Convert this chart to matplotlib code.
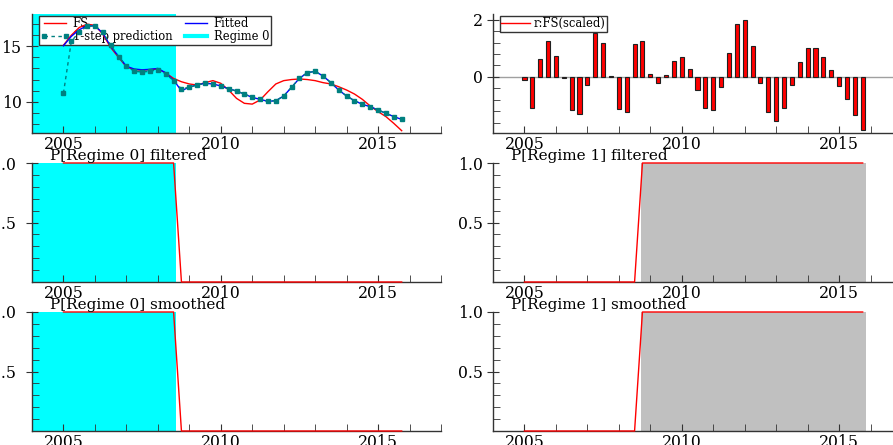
import numpy as np
import matplotlib
matplotlib.use("Agg")
import matplotlib.pyplot as plt
from matplotlib.ticker import MultipleLocator, FixedLocator
from matplotlib.lines import Line2D

plt.rcParams['font.family'] = ['DejaVu Serif']

# ---------------- data ----------------
start_year = 2005.0
n_obs = 44
dates = start_year + 0.25 * np.arange(n_obs)   # quarterly 2005Q1 .. 2015Q4

fs = [15.10, 16.00, 16.70, 17.00,
      16.90, 16.10, 14.90, 14.00,
      13.15, 12.90, 12.85, 12.90,
      12.95, 12.60, 12.10, 11.80,
      11.60, 11.50, 11.72, 11.90,
      11.66, 11.05, 10.30, 9.85,
      9.78, 10.15, 10.90, 11.60,
      11.90, 12.00, 12.05, 12.00,
      11.90, 11.72, 11.60, 11.35,
      11.05, 10.69, 10.21, 9.61,
      9.10, 8.65, 8.04, 7.38]

fitted = [15.05, 15.90, 16.50, 16.85,
          16.85, 16.20, 15.00, 14.10,
          13.20, 12.95, 12.88, 12.92,
          13.00, 12.60, 11.95, 10.98,
          11.32, 11.52, 11.66, 11.60,
          11.42, 11.17, 10.96, 10.69,
          10.39, 10.21, 10.03, 10.09,
          10.51, 11.30, 12.11, 12.62,
          12.74, 12.32, 11.72, 11.05,
          10.51, 10.09, 9.76, 9.55,
          9.25, 8.95, 8.65, 8.40]

one_step = [10.78, 15.45, 16.30, 16.80,
            16.85, 16.30, 15.10, 14.07,
            13.22, 12.74, 12.68, 12.74,
            12.90, 12.50, 11.90, 11.15,
            11.30, 11.51, 11.66, 11.60,
            11.42, 11.17, 10.96, 10.69,
            10.39, 10.21, 10.03, 10.09,
            10.51, 11.30, 12.11, 12.62,
            12.74, 12.32, 11.72, 11.05,
            10.51, 10.09, 9.76, 9.55,
            9.25, 8.95, 8.65, 8.40]

resid_scaled = [-0.10, -1.10, 0.63, 1.24,
                0.73, -0.05, -1.17, -1.30,
                -0.27, 1.54, 1.19, 0.03,
                -1.13, -1.22, 1.16, 1.24,
                0.10, -0.20, 0.08, 0.54,
                0.70, 0.28, -0.46, -1.10,
                -1.16, -0.37, 0.83, 1.84,
                2.00, 1.08, -0.20, -1.22,
                -1.56, -1.08, -0.29, 0.53,
                1.00, 1.00, 0.70, 0.23,
                -0.32, -0.78, -1.32, -1.85]

p0_filtered = [1.0] * 15 + [0.0] * 29
p0_smoothed = [1.0] * 15 + [0.0] * 29
p1_filtered = [1.0 - v for v in p0_filtered]
p1_smoothed = [1.0 - v for v in p0_smoothed]

regime0_shade = (2004.0, 2008.57)
regime1_shade = (2008.72, 2015.85)

x_major = [2005, 2010, 2015]
titles = ["P[Regime 0] filtered", "P[Regime 1] filtered",
          "P[Regime 0] smoothed", "P[Regime 1] smoothed"]

# ---------------- style ----------------
W, H = 893, 445
fig = plt.figure(figsize=(W / 100, H / 100), dpi=100)
AX_COL = '#333333'
CYAN = '#00FFFF'
GREY = '#C0C0C0'
TICK_FS = 11.3
TITLE_FS = 11.0
LEG_FS = 8.3


def add_ax(left, top, right, bottom):
    return fig.add_axes([left / W, 1 - bottom / H, (right - left) / W, (bottom - top) / H])


def style(ax, ymaj, ymin_step, ypad=3):
    for s in ('top', 'right'):
        ax.spines[s].set_visible(False)
    for s in ('left', 'bottom'):
        ax.spines[s].set_color(AX_COL)
        ax.spines[s].set_linewidth(1.0)
    ax.set_xlim(2004, 2017)
    ax.xaxis.set_major_locator(FixedLocator(x_major))
    ax.xaxis.set_minor_locator(MultipleLocator(1))
    ax.yaxis.set_major_locator(FixedLocator(ymaj))
    ax.yaxis.set_minor_locator(MultipleLocator(ymin_step))
    ax.tick_params(axis='x', which='both', direction='in', length=5, color=AX_COL,
                   labelsize=TICK_FS, pad=2)
    ax.tick_params(axis='y', which='major', direction='inout', length=9, color=AX_COL,
                   labelsize=TICK_FS, pad=ypad)
    ax.tick_params(axis='y', which='minor', direction='in', length=5, color=AX_COL)
    ax.set_facecolor('none')


# ---- top-left: FS, fitted, 1-step prediction ----
ax = add_ax(32, 14, 441, 133)
style(ax, [10, 15], 1)
ax.set_ylim(7.17, 17.92)
ax.axvspan(*regime0_shade, color=CYAN, zorder=0.5, lw=0)
ax.plot(dates, fs, color='#FF0000', lw=1.0, zorder=3)
ax.plot(dates, fitted, color='#0000FF', lw=1.0, zorder=3)
ax.plot(dates, one_step, color='#008080', lw=1.0, ls=(0, (2.5, 2.5)),
        marker='s', ms=2.8, zorder=4)
handles = [Line2D([], [], color='#FF0000', lw=1.0),
           Line2D([], [], color='#008080', lw=1.0, ls=(0, (2.5, 2.5)), marker='s', ms=2.8),
           Line2D([], [], color='#0000FF', lw=1.0),
           Line2D([], [], color=CYAN, lw=3.0)]
labels = ["FS", "1-step prediction", "Fitted", "Regime 0"]
leg = ax.legend(handles, labels, ncol=2, loc='upper left',
                bbox_to_anchor=(7 / 409, 1 - 2 / 119), borderaxespad=0,
                fontsize=LEG_FS, handlelength=2.5, handletextpad=0.3, columnspacing=0.8,
                borderpad=0.12, labelspacing=0.0, fancybox=False, framealpha=1,
                edgecolor=AX_COL, numpoints=2)
leg.get_frame().set_linewidth(1.0)
leg.set_zorder(1)

# ---- top-right: scaled residuals ----
ax = add_ax(493, 14, 902, 133)
style(ax, [0, 2], 0.4)
ax.set_ylim(-1.965, 2.2)
ax.axhline(0, color='#A0A0A0', lw=1.0, zorder=1)
ax.bar(dates, resid_scaled, width=0.13, color='#FF0000', edgecolor='#202020',
       linewidth=0.8, zorder=3)
leg = ax.legend([Line2D([], [], color='#FF0000', lw=1.0)], ["r:FS(scaled)"],
                loc='upper left', bbox_to_anchor=(7 / 409, 1 - 2 / 119), borderaxespad=0,
                fontsize=LEG_FS, handlelength=2.5, handletextpad=0.3, borderpad=0.12,
                fancybox=False, framealpha=1, edgecolor=AX_COL)
leg.get_frame().set_linewidth(1.0)

# ---- probability panels ----
panels = [((32, 163, 441, 282), p0_filtered, regime0_shade, CYAN, titles[0], 7),
          ((493, 163, 902, 282), p1_filtered, regime1_shade, GREY, titles[1], 3),
          ((32, 312, 441, 431), p0_smoothed, regime0_shade, CYAN, titles[2], 7),
          ((493, 312, 902, 431), p1_smoothed, regime1_shade, GREY, titles[3], 3)]
for box, probs, shade, col, title, ypad in panels:
    ax = add_ax(*box)
    style(ax, [0.5, 1.0], 0.1, ypad=ypad)
    ax.set_ylim(0, 1)
    ax.axvspan(*shade, color=col, zorder=0.5, lw=0)
    ax.plot(dates, probs, color='#FF0000', lw=1.0, zorder=3, clip_on=False)
    ax.text(18 / 409, 1.0, title, transform=ax.transAxes, ha='left', va='bottom',
            fontsize=TITLE_FS)

fig.savefig('out.png', dpi=100)
